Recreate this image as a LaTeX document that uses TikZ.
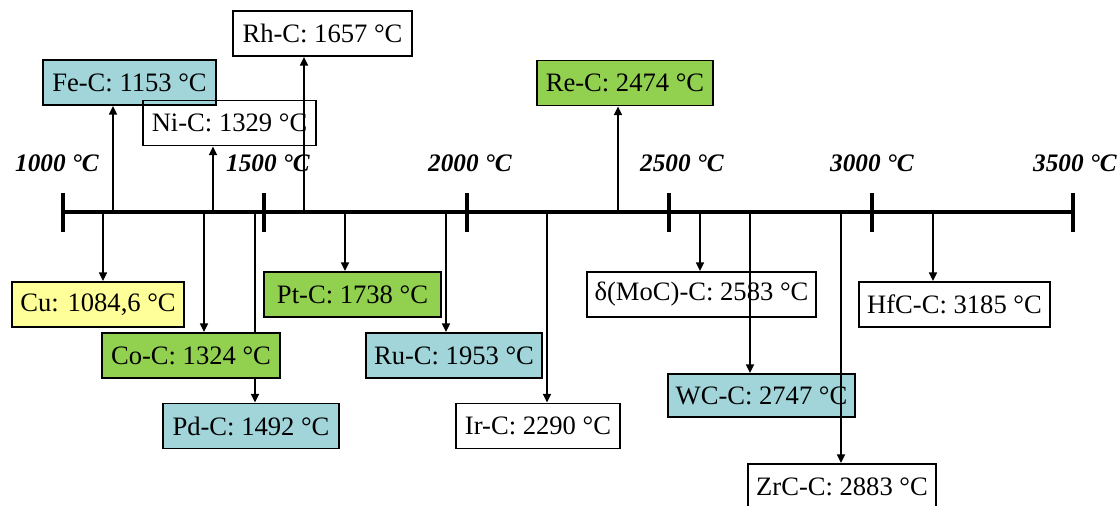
\documentclass[tikz,border=0pt]{standalone}
\usepackage{fontspec}
\setmainfont{Liberation Serif}
\usetikzlibrary{arrows.meta,positioning,calc}
\definecolor{ink}{HTML}{000000}
\definecolor{tealFill}{HTML}{A1D5DA}
\definecolor{greenFill}{HTML}{92D050}
\definecolor{yellowFill}{HTML}{FFFF99}
\tikzset{>={Triangle[length=4.4pt,width=4pt]},
  axisline/.style={line width=2pt,draw=ink},
  ticklab/.style={font=\fontsize{12.6}{14}\selectfont\bfseries\itshape,text=ink},
  pointbox/.style={draw=ink,line width=0.9pt,minimum height=22.5pt,inner sep=1pt,
    font=\fontsize{13.3}{15}\selectfont,text=ink},
  pointarr/.style={->,draw=ink,line width=0.8pt}}

\begin{document}
\begin{tikzpicture}[x=0.5pt,y=-0.5pt]
\clip (0,0) rectangle (1120,506);
% temperature axis
\draw[axisline] (63,212) -- (1073,212);
\foreach \tx/\lx/\tv [count=\i] in {63/57/1000,264/268/1500,467/470/2000,669/682/2500,872/872/3000,1073/1075/3500}{
  \draw[axisline] (\tx,193) -- (\tx,232);
  \node[ticklab] (t\i) at (\lx,163) {\tv\ °C};}
% feet of the arrows on the axis
\foreach \n/\fx in {cu/103,fe/113,co/204,ni/213,pd/255,rh/304,pt/345,ru/446,ir/547,re/618,mo/700,wc/750,zr/841,hf/933}
  \coordinate (f\n) at (\fx,212);
% points above the axis
\node[pointbox,minimum width=89.5pt] (rh) at (322.5,33.5) {Rh-C: 1657 °C};
\node[pointbox,fill=tealFill,minimum width=86.5pt] (fe) at (129.5,82.5) {Fe-C: 1153 °C};
\node[pointbox,minimum width=86.5pt] (ni) at (229.5,123) {Ni-C: 1329 °C};
\node[pointbox,fill=greenFill,minimum width=88pt] (re) at (625,83) {Re-C: 2474 °C};
% points below the axis
\node[pointbox,fill=tealFill,minimum width=88pt] (pd) at (251,426) {Pd-C: 1492 °C};
\draw[pointarr] (fpd) -- (fpd |- pd.north);
\node[pointbox,fill=greenFill,minimum width=89pt] (co) at (191,355.5) {Co-C: 1324 °C};
\node[pointbox,fill=yellowFill,minimum width=86pt] (cu) at (98,304.5) {Cu: 1084,6 °C};
\node[pointbox,fill=greenFill,minimum width=88.5pt] (pt) at (352.5,294.5) {Pt-C: 1738 °C};
\node[pointbox,fill=tealFill,minimum width=88pt] (ru) at (454,355.5) {Ru-C: 1953 °C};
\node[pointbox,minimum width=82pt] (ir) at (538,426) {Ir-C: 2290 °C};
\node[pointbox,minimum width=114.5pt] (mo) at (701.5,294.5) {δ(MoC)-C: 2583 °C};
\node[pointbox,fill=tealFill,minimum width=93.5pt,minimum height=21.5pt] (wc) at (761.5,395.5) {WC-C: 2747 °C};
\node[pointbox,minimum width=94pt,minimum height=23pt] (zr) at (842,487) {ZrC-C: 2883 °C};
\node[pointbox,minimum width=95.5pt] (hf) at (954.5,304.5) {HfC-C: 3185 °C};
% connectors
\foreach \n in {fe,ni,rh,re} \draw[pointarr] (f\n) -- (f\n |- \n.south);
\foreach \n in {cu,co,pt,ru,ir,mo,wc,zr,hf} \draw[pointarr] (f\n) -- (f\n |- \n.north);
\end{tikzpicture}
\end{document}
